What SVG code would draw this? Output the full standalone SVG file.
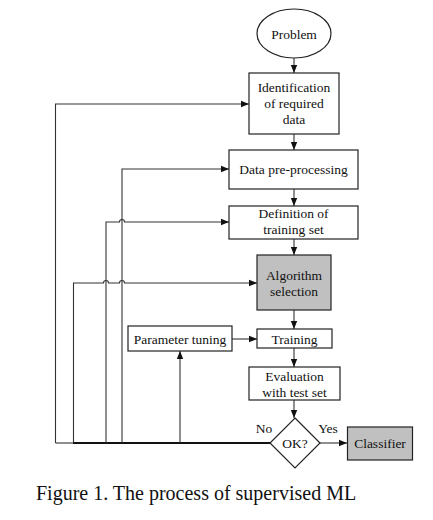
<svg xmlns="http://www.w3.org/2000/svg" width="433" height="520" viewBox="0 0 433 520">
<style>
.box{fill:#fff;stroke:#222;stroke-width:1.2}
.gray{fill:#c0c0c0;stroke:#222;stroke-width:1.2}
.t{font-family:"Liberation Serif","Times New Roman",serif;font-size:13.5px;fill:#111;text-anchor:middle}
.ln{fill:none;stroke:#333;stroke-width:1.1}
.cap{font-family:"Liberation Serif","Times New Roman",serif;font-size:20px;fill:#111}
</style>
<defs>
<marker id="ah" markerUnits="userSpaceOnUse" markerWidth="8" markerHeight="8" viewBox="0 0 8 8" refX="8" refY="4" orient="auto">
<path d="M0,0.8 L8,4 L0,7.2 Z" fill="#111"/>
</marker>
</defs>
<rect width="433" height="520" fill="#fff"/>
<g id="connectors">
<path class="ln" d="M294,58 V73" marker-end="url(#ah)"/>
<path class="ln" d="M294,134 V150" marker-end="url(#ah)"/>
<path class="ln" d="M294,189 V206" marker-end="url(#ah)"/>
<path class="ln" d="M294,239 V255" marker-end="url(#ah)"/>
<path class="ln" d="M294,310 V329" marker-end="url(#ah)"/>
<path class="ln" d="M294,348 V367" marker-end="url(#ah)"/>
<path class="ln" d="M294,400 V418" marker-end="url(#ah)"/>
<path class="ln" d="M232,339 H257" marker-end="url(#ah)"/>
<path class="ln" d="M320,443 H347" marker-end="url(#ah)"/>
<path class="ln" d="M55.5,443 H73"/>
<path d="M73,443 H270" fill="none" stroke="#111" stroke-width="1.8"/>
<path class="ln" d="M55.5,443 V104 H249" marker-end="url(#ah)"/>
<path class="ln" d="M122,443 V169 H229" marker-end="url(#ah)"/>
<path class="ln" d="M106,443 V222 H119.5 A2.5,2.5 0 0 1 124.5,222 H229" marker-end="url(#ah)"/>
<path class="ln" d="M73.5,443 V283 H103.5 A2.5,2.5 0 0 1 108.5,283 H119.5 A2.5,2.5 0 0 1 124.5,283 H257" marker-end="url(#ah)"/>
<path class="ln" d="M180,443 V351" marker-end="url(#ah)"/>
</g>
<g id="problem">
<ellipse cx="294" cy="33.5" rx="37" ry="24.5" class="box"/>
<text class="t" x="294" y="38.5">Problem</text>
</g>
<g id="identification">
<rect x="249" y="73" width="90" height="61" class="box"/>
<text class="t" x="294" y="91.5">Identification</text>
<text class="t" x="294" y="108">of required</text>
<text class="t" x="294" y="123.5">data</text>
</g>
<g id="preprocessing">
<rect x="229" y="150" width="129" height="39" class="box"/>
<text class="t" x="293.5" y="173.5">Data pre-processing</text>
</g>
<g id="definition">
<rect x="229" y="206" width="129" height="33" class="box"/>
<text class="t" x="293.5" y="217.5">Definition of</text>
<text class="t" x="293.5" y="234">training set</text>
</g>
<g id="algorithm">
<rect x="257" y="255" width="74" height="55" class="gray"/>
<text class="t" x="294" y="279.5">Algorithm</text>
<text class="t" x="294" y="295.5">selection</text>
</g>
<g id="parameter">
<rect x="128" y="326" width="104" height="25" class="box"/>
<text class="t" x="180" y="343.5">Parameter tuning</text>
</g>
<g id="training">
<rect x="257" y="329" width="75" height="19" class="box"/>
<text class="t" x="294.5" y="343.5">Training</text>
</g>
<g id="evaluation">
<rect x="249" y="367" width="91" height="33" class="box"/>
<text class="t" x="294.5" y="380.5">Evaluation</text>
<text class="t" x="294.5" y="396.5">with test set</text>
</g>
<g id="ok">
<path d="M295,418 L320,443 L295,468 L270,443 Z" class="box"/>
<text class="t" x="295" y="447.5">OK?</text>
<text class="t" x="264" y="433">No</text>
<text class="t" x="328" y="433">Yes</text>
</g>
<g id="classifier">
<rect x="347.5" y="427" width="65" height="33" class="gray"/>
<text class="t" x="380" y="447.5">Classifier</text>
</g>
<text class="cap" x="36" y="500">Figure 1. The process of supervised ML</text>
</svg>
